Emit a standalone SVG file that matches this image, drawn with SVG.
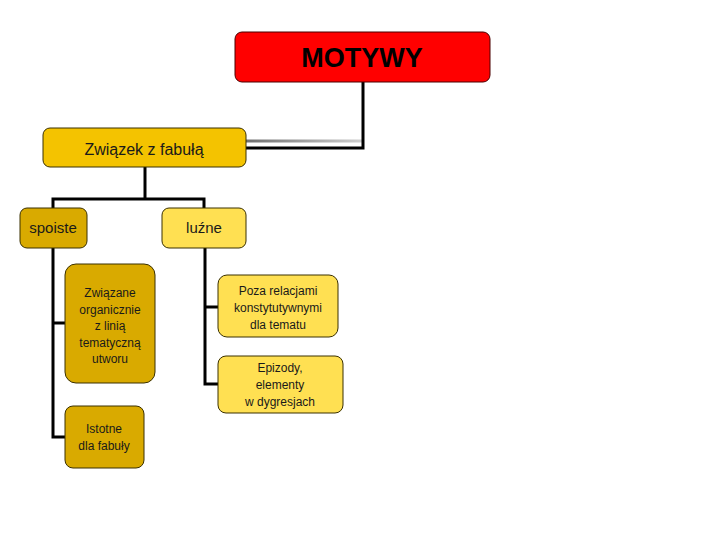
<svg xmlns="http://www.w3.org/2000/svg" width="720" height="540" viewBox="0 0 720 540">
<style>
.t{font-family:"Liberation Sans",Arial,sans-serif;fill:#1a1a1a;text-anchor:middle}
.s{font-size:12px}
.box{stroke:#3a3000;stroke-width:1}
.c{stroke:#000;stroke-width:3;fill:none}
.gold{fill:#F4C300}
.dark{fill:#D9AA00}
.light{fill:#FFE052}
</style>
<defs>
<linearGradient id="gr" gradientUnits="userSpaceOnUse" x1="246" x2="363" y1="0" y2="0">
<stop offset="0" stop-color="#707070"/>
<stop offset="1" stop-color="#d0d0d0"/>
</linearGradient>
</defs>
<g id="connectors">
<rect x="246" y="139.5" width="117" height="3" fill="url(#gr)"/>
<polyline class="c" points="363,82 363,148 246,148"/>
<polyline class="c" points="145,167 145,199"/>
<polyline class="c" points="53,208 53,199 204,199 204,208"/>
<polyline class="c" points="53,248 53,437 65,437"/>
<line class="c" x1="53" y1="323" x2="65" y2="323"/>
<polyline class="c" points="205,248 205,384 218,384"/>
<line class="c" x1="205" y1="307" x2="218" y2="307"/>
</g>
<g id="motywy">
<rect x="235" y="32" width="255" height="50" rx="7" fill="#FF0000" stroke="#4a0000" stroke-width="1"/>
<text class="t" x="362" y="67" style="font-size:27px;font-weight:bold;fill:#000">MOTYWY</text>
</g>
<g id="zwiazek">
<rect class="box gold" x="43" y="128" width="203" height="39" rx="7"/>
<text class="t" x="144" y="155" style="font-size:16px">Związek z fabułą</text>
</g>
<g id="spoiste">
<rect class="box dark" x="20" y="208" width="67" height="40" rx="7"/>
<text class="t" x="53" y="233" style="font-size:15px">spoiste</text>
</g>
<g id="luzne">
<rect class="box light" x="162" y="208" width="84" height="40" rx="7"/>
<text class="t" x="204" y="233" style="font-size:15px">luźne</text>
</g>
<g id="zwiazane">
<rect class="box dark" x="65" y="264" width="90" height="119" rx="11"/>
<text class="t s" x="110" y="297">Związane</text>
<text class="t s" x="110" y="314">organicznie</text>
<text class="t s" x="110" y="330">z linią</text>
<text class="t s" x="110" y="347">tematyczną</text>
<text class="t s" x="110" y="363">utworu</text>
</g>
<g id="istotne">
<rect class="box dark" x="65" y="406" width="79" height="62" rx="8"/>
<text class="t s" x="104" y="433">Istotne</text>
<text class="t s" x="104" y="450">dla fabuły</text>
</g>
<g id="poza">
<rect class="box light" x="218" y="275" width="120" height="62" rx="9"/>
<text class="t s" x="278" y="295">Poza relacjami</text>
<text class="t s" x="278" y="312">konstytutywnymi</text>
<text class="t s" x="278" y="329">dla tematu</text>
</g>
<g id="epizody">
<rect class="box light" x="218" y="356" width="125" height="57" rx="8"/>
<text class="t s" x="280" y="372">Epizody,</text>
<text class="t s" x="280" y="389">elementy</text>
<text class="t s" x="280" y="406">w dygresjach</text>
</g>
</svg>
